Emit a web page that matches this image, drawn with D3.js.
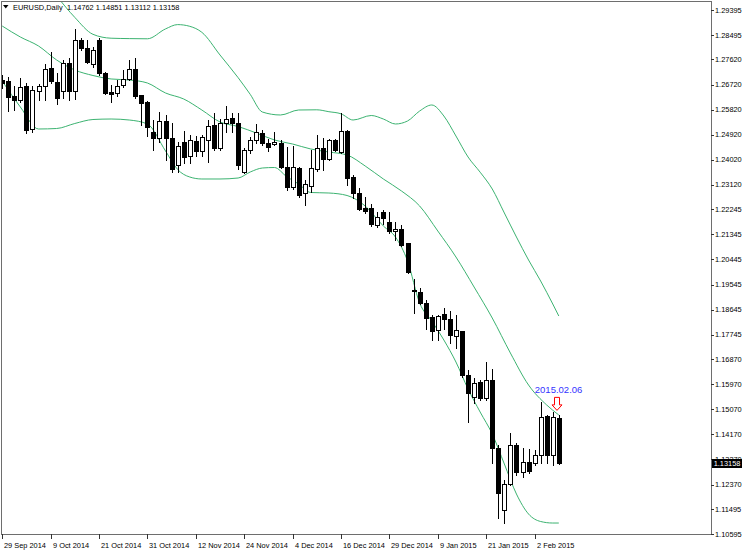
<!DOCTYPE html>
<html><head><meta charset="utf-8">
<script src="https://cdn.jsdelivr.net/npm/d3@7"></script>
<style>
html,body{margin:0;padding:0;background:#fff;}
svg{display:block;}
text{font-family:"Liberation Sans",Arial,sans-serif;}
</style></head><body>
<svg id="c" width="747" height="554"></svg>
<script>
const symbolTitle = "EURUSD,Daily";
const ohlcTitle = "1.14762 1.14851 1.13112 1.13158";
const openP = [1.26884,1.26848,1.26310,1.26166,1.26668,1.25126,1.26489,1.26668,1.27314,1.26812,
1.26489,1.27494,1.26489,1.28319,1.28032,1.27458,1.28319,1.27135,1.26453,1.26417,
1.26704,1.26920,1.27278,1.26345,1.26094,1.25018,1.24803,1.25413,1.24803,1.23834,
1.24659,1.24157,1.24695,1.24336,1.24731,1.25269,1.24444,1.25341,1.25520,1.25341,
1.23583,1.24372,1.24731,1.24982,1.24623,1.24587,1.24623,1.23762,1.23044,1.23726,
1.22829,1.23080,1.23690,1.24444,1.24049,1.24731,1.24300,1.25054,1.23403,1.22829,
1.22291,1.22291,1.21681,1.22147,1.21789,1.21466,1.21538,1.21035,1.19349,1.19277,
1.18882,1.18380,1.17914,1.18488,1.18308,1.17698,1.17878,1.16299,1.15510,1.16048,
1.15474,1.16120,1.13680,1.11455,1.12388,1.13787,1.12819,1.13177,1.13142,1.13429,
1.14828,1.13429,1.14762];
const highP = [1.27063,1.26991,1.26668,1.26955,1.26776,1.26668,1.26740,1.27458,1.27888,1.27135,
1.27601,1.27673,1.28713,1.28391,1.28319,1.28068,1.28391,1.27171,1.26704,1.26884,
1.27242,1.27601,1.27673,1.26345,1.26130,1.25448,1.25735,1.25628,1.25341,1.24659,
1.25054,1.24910,1.24874,1.24910,1.25448,1.25700,1.25484,1.25951,1.25700,1.25700,
1.24444,1.24838,1.25305,1.25090,1.24767,1.25018,1.24731,1.24480,1.24516,1.23762,
1.23296,1.24372,1.24910,1.24803,1.24767,1.24767,1.25700,1.25090,1.23475,1.23009,
1.22686,1.22434,1.22147,1.22219,1.22147,1.21789,1.21681,1.21035,1.19744,1.19421,
1.18990,1.18452,1.18452,1.18703,1.18595,1.18452,1.17878,1.16478,1.16191,1.16120,
1.16765,1.16514,1.13787,1.12530,1.14218,1.13859,1.13680,1.13644,1.13608,1.15330,
1.14864,1.14971,1.14851];
const lowP = [1.26597,1.25771,1.25807,1.26094,1.24982,1.25018,1.26166,1.26166,1.26776,1.26023,
1.26238,1.26166,1.26202,1.27960,1.27494,1.27350,1.27063,1.26381,1.26094,1.26310,
1.26632,1.26884,1.26238,1.25269,1.24874,1.24372,1.24659,1.24013,1.23583,1.23583,
1.23906,1.23906,1.24157,1.24157,1.23941,1.24372,1.24372,1.25018,1.25018,1.23690,
1.23547,1.24264,1.24623,1.24551,1.24336,1.24551,1.23726,1.22937,1.22973,1.22686,
1.22399,1.22865,1.23619,1.23654,1.24013,1.24336,1.24264,1.23116,1.22650,1.22219,
1.22112,1.21645,1.21609,1.21717,1.21394,1.21143,1.20928,1.19959,1.18524,1.18847,
1.17950,1.17555,1.17555,1.17950,1.17447,1.17268,1.16227,1.14613,1.15294,1.15402,
1.15402,1.13142,1.11168,1.10989,1.12352,1.12711,1.12639,1.12783,1.13070,1.13142,
1.13142,1.13070,1.13112];
const closeP = [1.26776,1.26274,1.26166,1.26632,1.25090,1.26525,1.26668,1.27278,1.26848,1.26238,
1.27494,1.26489,1.28319,1.28032,1.27529,1.27960,1.27135,1.26417,1.26381,1.26668,
1.26920,1.27278,1.26310,1.26058,1.25197,1.24803,1.25413,1.24803,1.23690,1.24516,
1.24121,1.24731,1.24336,1.24838,1.25233,1.24444,1.25341,1.25484,1.25341,1.23834,
1.24372,1.24731,1.25018,1.24623,1.24480,1.24659,1.23762,1.23044,1.23762,1.22757,
1.23152,1.23726,1.24444,1.24049,1.24731,1.24372,1.25054,1.23367,1.22829,1.22255,
1.22183,1.21717,1.21968,1.21932,1.21466,1.21538,1.20963,1.19995,1.19313,1.18882,
1.18344,1.17878,1.18416,1.18308,1.17734,1.17914,1.16299,1.15653,1.16012,1.15474,
1.16120,1.13680,1.12065,1.12388,1.13787,1.12819,1.13177,1.12855,1.13429,1.14792,
1.13429,1.14792,1.13158];

const dateTickIndex = [0,8,16,24,32,40,48,56,64,72,80,88];
const dateTickLabels = ["29 Sep 2014","9 Oct 2014","21 Oct 2014","31 Oct 2014","12 Nov 2014","24 Nov 2014","4 Dec 2014","16 Dec 2014","29 Dec 2014","9 Jan 2015","21 Jan 2015","2 Feb 2015"];
const priceTicks = [1.29395,1.28495,1.27620,1.26720,1.25820,1.24920,1.24020,1.23120,1.22245,1.21345,1.20445,1.19545,1.18645,1.17745,1.16870,1.15970,1.15070,1.14170,1.13270,1.12370,1.11495,1.10595];

const upperBand = [[9,1.29898],[12,1.29130],[15,1.28523],[18,1.28383],[21,1.28369],[24,1.28362],[27,1.28717],[29,1.28871],[31,1.28810],[33,1.28595],[36,1.27781],[39,1.26966],[41,1.26367],[43,1.25735],[46,1.25628],[49,1.25807],[52,1.25814],[54,1.25746],[56,1.25671],[58,1.25448],[61,1.25610],[63,1.25484],[65,1.25305],[67,1.25413],[69,1.25771],[71,1.25987],[73,1.25592],[75,1.24874],[77,1.24121],[79,1.23576],[81,1.22973],[83,1.22112],[85,1.21250],[87,1.20425],[89,1.19672],[91,1.18847],[92,1.18416]];
const middleBand = [[0,1.28821],[3,1.28426],[6,1.28104],[9,1.27601],[12,1.27242],[15,1.27045],[18,1.26920],[21,1.26884],[24,1.26776],[27,1.26417],[30,1.26202],[33,1.25807],[36,1.25377],[39,1.25215],[42,1.24982],[45,1.24731],[48,1.24587],[51,1.24408],[54,1.24300],[57,1.24193],[60,1.23798],[63,1.23332],[66,1.22901],[69,1.22363],[72,1.21466],[75,1.20533],[78,1.19456],[81,1.18344],[84,1.17088],[87,1.15940],[90,1.15223],[92,1.14864]];
const lowerBand = [[0,1.26848],[3,1.25915],[6,1.25126],[9,1.25143],[12,1.25323],[15,1.25466],[18,1.25484],[21,1.25448],[24,1.25305],[27,1.24336],[29,1.23672],[31,1.23403],[33,1.23332],[36,1.23332],[39,1.23367],[41,1.23583],[43,1.23726],[45,1.23744],[47,1.23421],[49,1.23152],[51,1.22847],[54,1.22829],[57,1.22740],[60,1.22363],[63,1.21645],[65,1.21250],[67,1.20389],[69,1.18882],[71,1.18237],[73,1.17555],[75,1.16765],[77,1.15797],[79,1.14971],[81,1.14182],[83,1.13106],[85,1.12029],[87,1.11312],[89,1.11043],[91,1.10989],[92,1.10989]];

const lastPrice = 1.13158;
const markLabel = "2015.02.06";
const markIndex = 92;

// ---------- layout ----------
const frame = {left: 1.5, top: 1.5, right: 711.5, bottom: 534.5};
const FONT = 7.4;
const bandColor = "#3cb371";

const svg = d3.select("#c");
const x = d3.scaleLinear().domain([0, 92]).range([2.2, 558.8]);
const y = d3.scaleLinear().domain([1.10595, 1.29395]).range([534, 10]);
const ly = Math.round(y(lastPrice));

const defs = svg.append("defs");
defs.append("clipPath").attr("id","clip")
  .append("rect").attr("x",2).attr("y",2).attr("width",709).attr("height",532);
// the price tag hides the tick label underneath it (as in the terminal)
defs.append("clipPath").attr("id","tagclip")
  .append("rect").attr("x",712).attr("y",0).attr("width",35).attr("height",ly-4);

const plot = svg.append("g").attr("clip-path","url(#clip)");

// bands
const line = d3.line().x(d=>x(d[0])).y(d=>y(d[1])).curve(d3.curveMonotoneX);
[upperBand, middleBand, lowerBand].forEach(b => {
  plot.append("path").datum(b).attr("d", line)
    .attr("fill","none").attr("stroke",bandColor).attr("stroke-width",1);
});

// candles
const bars = d3.range(openP.length).map(i => ({i, o:openP[i], h:highP[i], l:lowP[i], c:closeP[i]}));
const cx = d => Math.round(x(d.i));
plot.selectAll("line.wick").data(bars).join("line").attr("class","wick")
  .attr("x1", d=>cx(d)+0.5).attr("x2", d=>cx(d)+0.5)
  .attr("y1", d=>Math.round(y(d.h))).attr("y2", d=>Math.round(y(d.l))+1)
  .attr("stroke","#000").attr("stroke-width",1).attr("shape-rendering","crispEdges");
plot.selectAll("rect.body").data(bars).join("rect").attr("class","body")
  .attr("x", d=>cx(d)-2+0.5)
  .attr("y", d=>Math.round(y(Math.max(d.o,d.c)))+0.5)
  .attr("width", 4)
  .attr("height", d=>Math.max(1, Math.round(y(Math.min(d.o,d.c))) - Math.round(y(Math.max(d.o,d.c)))))
  .attr("fill", d=> d.c > d.o ? "#fff" : "#000")
  .attr("stroke","#000").attr("stroke-width",1).attr("shape-rendering","crispEdges");

// frame
svg.append("path")
  .attr("d", `M${frame.left},${frame.top}H${frame.right}V${frame.bottom}H${frame.left}Z`)
  .attr("fill","none").attr("stroke","#6e6e6e").attr("stroke-width",1).attr("shape-rendering","crispEdges");

// y axis
const yAxis = svg.append("g");
yAxis.selectAll("line").data(priceTicks).join("line")
  .attr("x1",711).attr("x2",714)
  .attr("y1", d=>Math.round(y(d))+0.5).attr("y2", d=>Math.round(y(d))+0.5)
  .attr("stroke","#333").attr("shape-rendering","crispEdges");
yAxis.selectAll("text").data(priceTicks).join("text")
  .attr("x",715).attr("y", d=>y(d)).attr("dy","0.35em")
  .attr("font-size",FONT).attr("fill","#000")
  .attr("clip-path", d => Math.abs(y(d) - ly) < 9 ? "url(#tagclip)" : null)
  .text(d=>d3.format(".5f")(d));

// last price tag
svg.append("rect").attr("x",712).attr("y",ly-4).attr("width",30).attr("height",9).attr("fill","#000");
svg.append("text").attr("x",727).attr("y",ly+0.5).attr("dy","0.35em").attr("text-anchor","middle")
  .attr("font-size",FONT).attr("fill","#fff").text(d3.format(".5f")(lastPrice));

// x axis
const xAxis = svg.append("g");
xAxis.selectAll("line").data(dateTickIndex).join("line")
  .attr("x1", d=>Math.round(x(d))+0.5).attr("x2", d=>Math.round(x(d))+0.5)
  .attr("y1",534).attr("y2",539)
  .attr("stroke","#333").attr("shape-rendering","crispEdges");
xAxis.selectAll("text").data(dateTickIndex).join("text")
  .attr("x", d=>Math.round(x(d))+2).attr("y",547.5)
  .attr("font-size",FONT).attr("fill","#000")
  .text((d,k)=>dateTickLabels[k]);

// header
svg.append("path").attr("d","M3,5H8.5L5.75,8.5Z").attr("fill","#000");
svg.append("text").attr("x",13).attr("y",9.5).attr("font-size",FONT).attr("fill","#000").text(symbolTitle);
svg.append("text").attr("x",67).attr("y",9.5).attr("font-size",FONT).attr("fill","#000").text(ohlcTitle);

// marker: label + down arrow above the last bar
const mx = x(markIndex) - 1.8;
const tipY = y(highP[markIndex]) - 5;
svg.append("text").attr("x", x(markIndex) - 24).attr("y", tipY - 17.5)
  .attr("font-size",9.5).attr("fill","#3333ff").text(markLabel);
svg.append("path")
  .attr("d", `M${mx-2.5},${tipY-13}H${mx+2.5}V${tipY-5.5}H${mx+5}L${mx},${tipY}L${mx-5},${tipY-5.5}H${mx-2.5}Z`)
  .attr("fill","#fff").attr("stroke","#ff0000").attr("stroke-width",1);
</script>
</body></html>
